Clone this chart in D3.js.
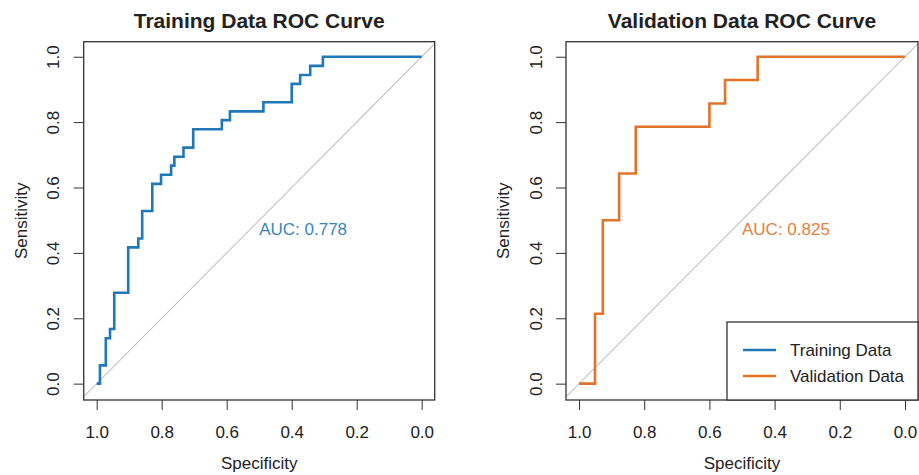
<!DOCTYPE html>
<html>
<head>
<meta charset="utf-8">
<script src="https://cdn.jsdelivr.net/npm/d3@7"></script>
<style>
body { margin: 0; background: #fff; }
text { font-family: "Liberation Sans", Arial, sans-serif; }
</style>
</head>
<body>
<script>
// ROC coordinates (specificity, sensitivity)
var trainSpec = [1.0, 0.990, 0.972, 0.959, 0.946, 0.903, 0.872, 0.860, 0.829, 0.802, 0.771,
                 0.761, 0.733, 0.703, 0.615, 0.590, 0.487, 0.400, 0.374, 0.343, 0.304, 0.0];
var trainSens = [0.0, 0.056, 0.139, 0.167, 0.278, 0.417, 0.444, 0.528, 0.611, 0.639, 0.667,
                 0.694, 0.722, 0.778, 0.806, 0.833, 0.861, 0.917, 0.944, 0.972, 1.0, 1.0];

var validSpec = [1.0, 0.951, 0.927, 0.877, 0.826, 0.600, 0.552, 0.452, 0.0];
var validSens = [0.0, 0.214, 0.500, 0.643, 0.786, 0.857, 0.929, 1.0, 1.0];

var trainAuc = "AUC: 0.778";
var validAuc = "AUC: 0.825";

var xTicks = [1.0, 0.8, 0.6, 0.4, 0.2, 0.0];
var yTicks = [0.0, 0.2, 0.4, 0.6, 0.8, 1.0];

var legendNames = ["Training Data", "Validation Data"];

var blue = "#1f78b8";
var orange = "#e2732a";
var ink = "#222";

//set up svg
var width = 919;
var height = 475;
var plotTop = 41.7;
var plotBottom = 400;

var svg = d3.select("body").append("svg")
  .attr("width", width)
  .attr("height", height);

var fmt = d3.format(".1f");

function panel(left, right, title, spec, sens, color, auc, id) {
  var x = d3.scaleLinear().domain([1.04, -0.04]).range([left, right]);
  var y = d3.scaleLinear().domain([-0.05, 1.046]).range([plotBottom, plotTop]);

  var g = svg.append("g");

  // clip for diagonal
  svg.append("clipPath").attr("id", "clip" + id)
    .append("rect")
    .attr("x", left).attr("y", plotTop)
    .attr("width", right - left).attr("height", plotBottom - plotTop);

  //reference diagonal
  g.append("line")
    .attr("clip-path", "url(#clip" + id + ")")
    .attr("x1", x(1.1)).attr("y1", y(-0.1))
    .attr("x2", x(-0.1)).attr("y2", y(1.1))
    .attr("stroke", "#c4c4c4")
    .attr("stroke-width", 1.1);

  //roc curve
  var pts = spec.map(function(d, i) { return {spec: d, sens: sens[i]}; });
  var line = d3.line()
    .x(function(d) { return x(d.spec); })
    .y(function(d) { return y(d.sens); })
    .curve(d3.curveStepAfter);

  g.append("path")
    .datum(pts)
    .attr("d", line)
    .attr("fill", "none")
    .attr("stroke", color)
    .attr("stroke-width", 2.6);

  //auc label
  g.append("text")
    .attr("x", x(0.5))
    .attr("y", y(0.5) + 15)
    .attr("font-size", 17)
    .attr("fill", color)
    .style("opacity", 0.9)
    .text(auc);

  //bottom axis
  var xa = g.append("g")
    .attr("transform", "translate(0," + plotBottom + ")")
    .call(d3.axisBottom(x).tickValues(xTicks).tickFormat(fmt).tickSize(10).tickPadding(16))
    .attr("color", "#333")
    .attr("font-size", 17)
    .attr("font-family", "Liberation Sans, Arial, sans-serif");
  xa.select(".domain").remove();
  xa.selectAll("text").attr("fill", ink);

  //left axis
  var ya = g.append("g")
    .attr("transform", "translate(" + left + ",0)")
    .call(d3.axisLeft(y).tickValues(yTicks).tickFormat(fmt).tickSize(10))
    .attr("color", "#333")
    .attr("font-size", 17)
    .attr("font-family", "Liberation Sans, Arial, sans-serif");
  ya.select(".domain").remove();
  ya.selectAll("text")
    .attr("transform", "rotate(-90)")
    .attr("x", 0)
    .attr("y", -24.5)
    .attr("dy", 0)
    .attr("fill", ink)
    .style("text-anchor", "middle");

  //box
  g.append("rect")
    .attr("x", left).attr("y", plotTop)
    .attr("width", right - left).attr("height", plotBottom - plotTop)
    .attr("fill", "none")
    .attr("stroke", "#333")
    .attr("stroke-width", 1.3);

  //titles and labels
  g.append("text")
    .attr("x", (left + right) / 2)
    .attr("y", 27.5)
    .attr("text-anchor", "middle")
    .attr("font-size", 21)
    .attr("font-weight", "bold")
    .attr("fill", ink)
    .text(title);

  g.append("text")
    .attr("x", (left + right) / 2)
    .attr("y", 469)
    .attr("text-anchor", "middle")
    .attr("font-size", 17)
    .attr("fill", ink)
    .text("Specificity");

  g.append("text")
    .attr("transform", "translate(" + (left - 57) + "," + ((plotTop + plotBottom) / 2) + ") rotate(-90)")
    .attr("text-anchor", "middle")
    .attr("font-size", 17)
    .attr("fill", ink)
    .text("Sensitivity");
}

panel(83.7, 434.7, "Training Data ROC Curve", trainSpec, trainSens, blue, trainAuc, 1);
panel(566, 918, "Validation Data ROC Curve", validSpec, validSens, orange, validAuc, 2);

//legend in the bottom right corner of the second plot
var legend = svg.append("g");
legend.append("rect")
  .attr("x", 727).attr("y", 322)
  .attr("width", 918 - 727).attr("height", plotBottom - 322)
  .attr("fill", "#fff")
  .attr("stroke", "#333")
  .attr("stroke-width", 1.3);

var legendColors = [blue, orange];
legendNames.forEach(function(name, i) {
  var ly = 350 + i * 26;
  legend.append("line")
    .attr("x1", 743).attr("x2", 776)
    .attr("y1", ly).attr("y2", ly)
    .attr("stroke", legendColors[i])
    .attr("stroke-width", 2.6);
  legend.append("text")
    .attr("x", 790)
    .attr("y", ly + 6)
    .attr("font-size", 17)
    .attr("fill", ink)
    .text(name);
});
</script>
</body>
</html>
